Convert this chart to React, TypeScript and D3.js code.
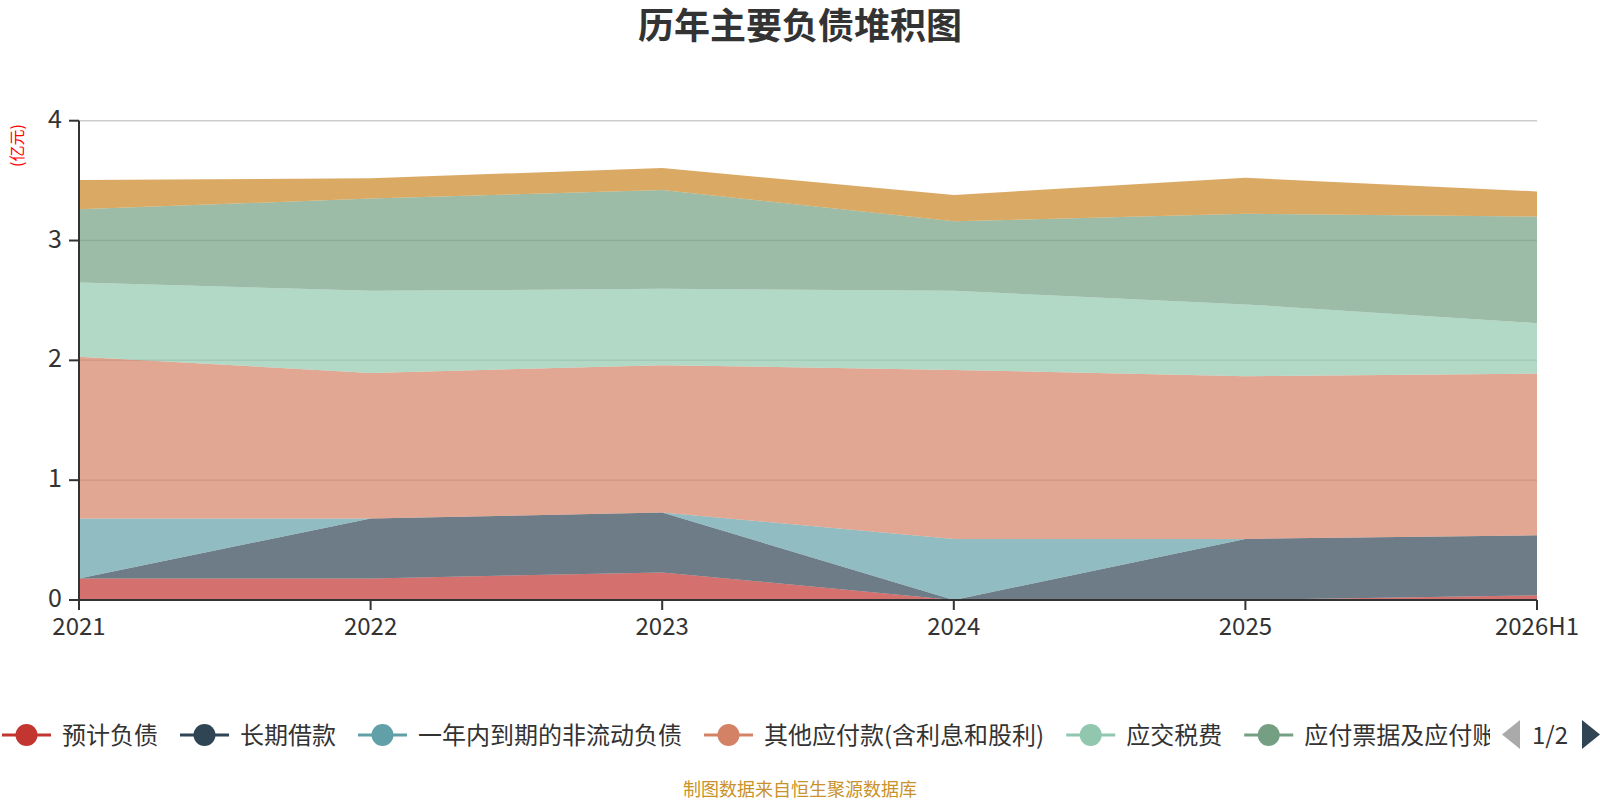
import { useMemo } from 'react';
import * as d3 from 'd3';

const WIDTH = 1600;
const HEIGHT = 800;
const PLOT = { left: 79, right: 1537, top: 120.7, bottom: 600 };
const FONT = '"Noto Sans CJK SC", "Microsoft YaHei", sans-serif';

// data (亿元)
const periods = ['2021', '2022', '2023', '2024', '2025', '2026H1'];
const seriesNames = [
  '预计负债',
  '长期借款',
  '一年内到期的非流动负债',
  '其他应付款(含利息和股利)',
  '应交税费',
  '应付票据及应付账款',
  '应付职工薪酬',
];
const provisions = [0.18, 0.18, 0.23, 0.0, 0.0, 0.04];
const longTermLoans = [0.0, 0.5, 0.5, 0.0, 0.51, 0.5];
const currentNonCurrent = [0.5, 0.0, 0.0, 0.51, 0.0, 0.0];
const otherPayables = [1.35, 1.215, 1.23, 1.41, 1.357, 1.35];
const taxesPayable = [0.62, 0.685, 0.637, 0.66, 0.6, 0.42];
const notesPayable = [0.61, 0.77, 0.824, 0.58, 0.757, 0.89];
const payroll = [0.245, 0.17, 0.184, 0.22, 0.3, 0.21];
const yTicks = [0, 1, 2, 3, 4];

const seriesValues = [provisions, longTermLoans, currentNonCurrent, otherPayables, taxesPayable, notesPayable, payroll];
const colors = ['#c23531', '#2f4554', '#61a0a8', '#d48265', '#91c7ae', '#749f83', '#ca8622'];

// legend page 1 shows the first six series
const legendPageSize = 6;

const measure = (text: string, size: number) => {
  const ctx = document.createElement('canvas').getContext('2d');
  if (!ctx) return text.length * size;
  ctx.font = `${size}px ${FONT}`;
  return ctx.measureText(text).width;
};

const App = () => {
  const xScale = useMemo(() => d3.scalePoint<string>().domain(periods).range([PLOT.left, PLOT.right]), []);
  const yScale = useMemo(() => d3.scaleLinear().domain([0, 4]).range([PLOT.bottom, PLOT.top]), []);

  const rows = periods.map((p, i) => {
    const row: Record<string, number | string> = { period: p };
    seriesNames.forEach((name, s) => {
      row[name] = seriesValues[s][i];
    });
    return row;
  });

  const stacked = d3.stack<Record<string, number | string>>().keys(seriesNames)(rows);

  const area = d3
    .area<d3.SeriesPoint<Record<string, number | string>>>()
    .x(d => xScale(d.data.period as string) ?? 0)
    .y0(d => yScale(d[0]))
    .y1(d => yScale(d[1]));

  // legend layout
  const legendY = 735;
  let cursor = 2;
  const legendItems = seriesNames.slice(0, legendPageSize).map((name, i) => {
    const x = cursor;
    cursor += 60 + measure(name, 24) + 22;
    return { name, x, color: colors[i] };
  });

  return (
    <div style={{ position: 'absolute', left: 0, top: 0 }}>
      <svg width={WIDTH} height={HEIGHT} style={{ display: 'block', fontFamily: FONT }}>
        <defs>
          <clipPath id="legendClip">
            <rect x={0} y={700} width={1490} height={70} />
          </clipPath>
        </defs>

        <text x={WIDTH / 2} y={39} textAnchor="middle" fontSize={36} fontWeight="bold" fill="#333">
          历年主要负债堆积图
        </text>

        {/* grid */}
        {yTicks.slice(1).map(t => (
          <line key={t} x1={PLOT.left} x2={PLOT.right} y1={yScale(t)} y2={yScale(t)} stroke="#ccc" strokeWidth={1.5} />
        ))}

        {/* stacked areas */}
        {stacked.map((s, i) => (
          <path key={s.key} d={area(s) ?? ''} fill={colors[i]} fillOpacity={0.7} stroke="none" />
        ))}

        {/* y axis */}
        <line x1={PLOT.left} x2={PLOT.left} y1={PLOT.top} y2={PLOT.bottom} stroke="#333" strokeWidth={2} />
        {yTicks.map(t => (
          <g key={t}>
            <line x1={PLOT.left - 10} x2={PLOT.left} y1={yScale(t)} y2={yScale(t)} stroke="#333" strokeWidth={2} />
            <text x={62} y={yScale(t) - 2} dy="0.36em" textAnchor="end" fontSize={25} fill="#333">
              {t}
            </text>
          </g>
        ))}
        <text
          transform={`translate(17,145.5) rotate(-90)`}
          textAnchor="middle"
          dy="0.36em"
          fontSize={16}
          fill="#ff0000"
        >
          (亿元)
        </text>

        {/* x axis */}
        <line x1={PLOT.left} x2={PLOT.right} y1={PLOT.bottom} y2={PLOT.bottom} stroke="#333" strokeWidth={2} />
        {periods.map(p => (
          <g key={p}>
            <line x1={xScale(p)} x2={xScale(p)} y1={PLOT.bottom} y2={PLOT.bottom + 10} stroke="#333" strokeWidth={2} />
            <text x={xScale(p)} y={635} textAnchor="middle" fontSize={24} fill="#333">
              {p}
            </text>
          </g>
        ))}

        {/* legend */}
        <g clipPath="url(#legendClip)">
          {legendItems.map(item => (
            <g key={item.name}>
              <line x1={item.x} x2={item.x + 49} y1={legendY} y2={legendY} stroke={item.color} strokeWidth={3} />
              <circle cx={item.x + 24.5} cy={legendY} r={11} fill={item.color} />
              <text x={item.x + 60} y={legendY} dy="0.36em" fontSize={24} fill="#333">
                {item.name}
              </text>
            </g>
          ))}
        </g>
        {/* pager */}
        <path d="M1520,720 L1502,734.5 L1520,749 Z" fill="#aaa" />
        <text x={1532} y={legendY} dy="0.36em" fontSize={24} fill="#333">
          1/2
        </text>
        <path d="M1582,720 L1600,734.5 L1582,749 Z" fill="#2f4554" />

        <text x={WIDTH / 2} y={796} textAnchor="middle" fontSize={18} fill="#c9922a">
          制图数据来自恒生聚源数据库
        </text>
      </svg>
    </div>
  );
};

export default App;
